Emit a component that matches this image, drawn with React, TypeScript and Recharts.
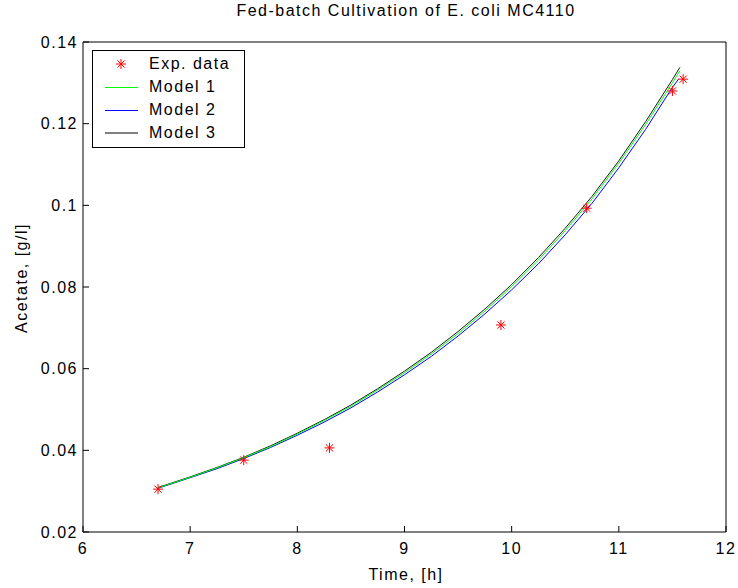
import React from "react";
import { ComposedChart, Line, Scatter, XAxis, YAxis } from "recharts";

// time grid used by the simulated models, [h]
const modelTime = [6.7, 7.0, 7.25, 7.5, 7.75, 8.0, 8.25, 8.5, 8.75, 9.0, 9.25, 9.5, 9.75, 10.0, 10.25, 10.5, 10.75, 11.0, 11.25, 11.5, 11.57];
const model2Time = [6.7, 7.0, 7.25, 7.5, 7.75, 8.0, 8.25, 8.5, 8.75, 9.0, 9.25, 9.5, 9.75, 10.0, 10.25, 10.5, 10.75, 11.0, 11.25, 11.5, 11.56];
const model1 = [0.0308, 0.0334, 0.0357, 0.0382, 0.0409, 0.044, 0.0473, 0.0508, 0.0548, 0.059, 0.0636, 0.0686, 0.0741, 0.0801, 0.0866, 0.0938, 0.1016, 0.1103, 0.1198, 0.13, 0.133];
const model2 = [0.0307, 0.0333, 0.0355, 0.038, 0.0407, 0.0437, 0.0469, 0.0504, 0.0543, 0.0585, 0.063, 0.068, 0.0734, 0.0793, 0.0857, 0.0928, 0.1005, 0.1092, 0.1186, 0.1289, 0.131];
const model3 = [0.0309, 0.0335, 0.0358, 0.0383, 0.0411, 0.0442, 0.0475, 0.0511, 0.0551, 0.0594, 0.064, 0.0691, 0.0746, 0.0806, 0.0872, 0.0944, 0.1022, 0.1109, 0.1205, 0.1308, 0.1338];

// experimental measurements
const expTime = [6.7, 7.5, 8.3, 9.9, 10.7, 11.5, 11.6];
const expAcetate = [0.0305, 0.0376, 0.0406, 0.0707, 0.0993, 0.128, 0.1309];

const xTicks = [6, 7, 8, 9, 10, 11, 12];
const yTicks = [0.02, 0.04, 0.06, 0.08, 0.1, 0.12, 0.14];

const toPoints = (xs: number[], ys: number[]) => xs.map((t, i) => ({ t, v: ys[i] }));

const FONT = "'Liberation Sans', Arial, Helvetica, sans-serif";
const SPACING = 1.5;
const tickStyle = { fill: "#000", fontSize: 16, fontFamily: FONT, letterSpacing: SPACING };
const textStyle: React.CSSProperties = { fontFamily: FONT, fontSize: 16, letterSpacing: SPACING, color: "#000" };

function Star(props: any) {
  const { cx, cy } = props;
  const r = 5;
  const d = 3.6;
  return (
    <g stroke="#ff0000" strokeWidth={1}>
      <line x1={cx - r} y1={cy} x2={cx + r} y2={cy} />
      <line x1={cx} y1={cy - r} x2={cx} y2={cy + r} />
      <line x1={cx - d} y1={cy - d} x2={cx + d} y2={cy + d} />
      <line x1={cx - d} y1={cy + d} x2={cx + d} y2={cy - d} />
    </g>
  );
}

const legendRows = [
  { label: "Exp. data", kind: "star", color: "#ff0000", w: 1, top: 1 },
  { label: "Model 1", kind: "line", color: "#00ff00", w: 1, top: 24 },
  { label: "Model 2", kind: "line", color: "#0000ff", w: 1, top: 47 },
  { label: "Model 3", kind: "line", color: "#808080", w: 2, top: 70 },
];

function LegendBox() {
  return (
    <div
      style={{
        position: "absolute",
        left: 92,
        top: 50,
        width: 151,
        height: 96,
        border: "1px solid #000",
        background: "#fff",
        ...textStyle,
      }}
    >
      {legendRows.map((r) => (
        <div key={r.label} style={{ position: "absolute", top: r.top, left: 0, height: 24, display: "flex", alignItems: "center" }}>
          <svg width={56} height={24} style={{ display: "block" }}>
            {r.kind === "star" ? (
              <Star cx={28} cy={12} />
            ) : (
              <line x1={12} y1={r.w === 1 ? 12.5 : 12} x2={45} y2={r.w === 1 ? 12.5 : 12} stroke={r.color} strokeWidth={r.w} />
            )}
          </svg>
          <span style={{ lineHeight: "24px" }}>{r.label}</span>
        </div>
      ))}
    </div>
  );
}

export default function App() {
  return (
    <div style={{ position: "relative", width: 738, height: 588, background: "#fff" }}>
      <style>{"body{margin:0}"}</style>
      <ComposedChart width={738} height={588} margin={{ top: 0, right: 0, bottom: 0, left: 0 }}>
        <XAxis
          xAxisId="b"
          dataKey="t"
          type="number"
          domain={[6, 12]}
          ticks={xTicks}
          height={56}
          tickSize={-6}
          tickMargin={17}
          tick={tickStyle}
          stroke="#000"
          allowDataOverflow
        />
        <XAxis
          xAxisId="t"
          orientation="top"
          type="number"
          domain={[6, 12]}
          ticks={xTicks}
          height={42}
          tickSize={-6}
          tick={false}
          stroke="#000"
          allowDataOverflow
        />
        <YAxis
          yAxisId="l"
          type="number"
          domain={[0.02, 0.14]}
          ticks={yTicks}
          width={83}
          tickSize={-6}
          tickMargin={11}
          tick={tickStyle}
          tickFormatter={(v: number) => String(Number(v.toFixed(2)))}
          stroke="#000"
          allowDataOverflow
        />
        <YAxis
          yAxisId="r"
          orientation="right"
          type="number"
          domain={[0.02, 0.14]}
          ticks={yTicks}
          width={12}
          tickSize={-6}
          tick={false}
          stroke="#000"
          allowDataOverflow
        />
        <Line xAxisId="b" yAxisId="l" data={toPoints(modelTime, model3)} dataKey="v" stroke="#1a1a1a" strokeWidth={1} dot={false} isAnimationActive={false} />
        <Line xAxisId="b" yAxisId="l" data={toPoints(model2Time, model2)} dataKey="v" stroke="#0000ff" strokeWidth={1} dot={false} isAnimationActive={false} />
        <Line xAxisId="b" yAxisId="l" data={toPoints(modelTime, model1)} dataKey="v" stroke="#00ff00" strokeWidth={1} dot={false} isAnimationActive={false} />
        <Scatter xAxisId="b" yAxisId="l" data={toPoints(expTime, expAcetate)} dataKey="v" shape={<Star />} isAnimationActive={false} />
      </ComposedChart>
      <div style={{ position: "absolute", left: 83, width: 646, top: 1, textAlign: "center", lineHeight: "20px", ...textStyle }}>
        Fed-batch Cultivation of E. coli MC4110
      </div>
      <div style={{ position: "absolute", left: 83, width: 646, top: 565, textAlign: "center", lineHeight: "20px", ...textStyle }}>
        Time, [h]
      </div>
      <div style={{ position: "absolute", left: 22, top: 278, width: 0, height: 0, ...textStyle }}>
        <div style={{ position: "absolute", transform: "translate(-50%, -50%) rotate(-90deg)", whiteSpace: "nowrap", lineHeight: "20px" }}>
          Acetate, [g/l]
        </div>
      </div>
      <LegendBox />
    </div>
  );
}
